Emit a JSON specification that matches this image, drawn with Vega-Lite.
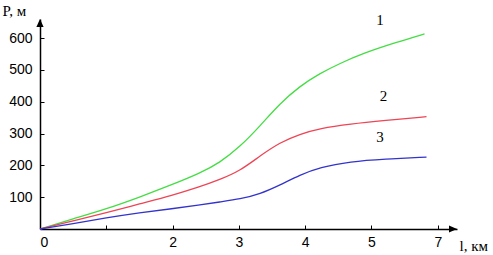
{
  "$schema": "https://vega.github.io/schema/vega-lite/v6.json",
  "autosize": "none",
  "width": 417,
  "height": 210,
  "padding": {"left": 40, "top": 19, "right": 36, "bottom": 26},
  "background": "white",
  "config": {"view": {"stroke": null}},
  "datasets": {
    "curves": [
      {"l": 0, "P": 0, "curve": "1"},
      {"l": 0.5, "P": 32, "curve": "1"},
      {"l": 1.0, "P": 63, "curve": "1"},
      {"l": 1.5, "P": 100, "curve": "1"},
      {"l": 2.0, "P": 140, "curve": "1"},
      {"l": 2.41, "P": 175, "curve": "1"},
      {"l": 2.71, "P": 208, "curve": "1"},
      {"l": 3.02, "P": 259, "curve": "1"},
      {"l": 3.32, "P": 324, "curve": "1"},
      {"l": 3.62, "P": 395, "curve": "1"},
      {"l": 3.92, "P": 449, "curve": "1"},
      {"l": 4.22, "P": 489, "curve": "1"},
      {"l": 4.52, "P": 520, "curve": "1"},
      {"l": 4.87, "P": 552, "curve": "1"},
      {"l": 5.38, "P": 587, "curve": "1"},
      {"l": 5.8, "P": 613, "curve": "1"},
      {"l": 0, "P": 0, "curve": "2"},
      {"l": 0.5, "P": 26, "curve": "2"},
      {"l": 1.0, "P": 51, "curve": "2"},
      {"l": 1.5, "P": 79, "curve": "2"},
      {"l": 2.0, "P": 106, "curve": "2"},
      {"l": 2.4, "P": 132, "curve": "2"},
      {"l": 2.71, "P": 155, "curve": "2"},
      {"l": 3.02, "P": 183, "curve": "2"},
      {"l": 3.32, "P": 230, "curve": "2"},
      {"l": 3.62, "P": 272, "curve": "2"},
      {"l": 3.92, "P": 298, "curve": "2"},
      {"l": 4.22, "P": 316, "curve": "2"},
      {"l": 4.68, "P": 330, "curve": "2"},
      {"l": 5.2, "P": 341, "curve": "2"},
      {"l": 5.83, "P": 353, "curve": "2"},
      {"l": 0, "P": 0, "curve": "3"},
      {"l": 0.5, "P": 17, "curve": "3"},
      {"l": 1.0, "P": 35, "curve": "3"},
      {"l": 1.5, "P": 51, "curve": "3"},
      {"l": 2.0, "P": 64, "curve": "3"},
      {"l": 2.4, "P": 75, "curve": "3"},
      {"l": 2.71, "P": 85, "curve": "3"},
      {"l": 3.02, "P": 94, "curve": "3"},
      {"l": 3.32, "P": 110, "curve": "3"},
      {"l": 3.62, "P": 138, "curve": "3"},
      {"l": 3.92, "P": 170, "curve": "3"},
      {"l": 4.22, "P": 194, "curve": "3"},
      {"l": 4.68, "P": 212, "curve": "3"},
      {"l": 5.2, "P": 220, "curve": "3"},
      {"l": 5.83, "P": 226, "curve": "3"}
    ],
    "labels": [
      {"l": 5.13, "P": 657, "text": "1"},
      {"l": 5.18, "P": 418, "text": "2"},
      {"l": 5.13, "P": 289, "text": "3"}
    ],
    "arrowUp": [{"l": 0, "P": 660}],
    "arrowRight": [{"l": 6.29, "P": 0}]
  },
  "layer": [
    {
      "data": {"name": "curves"},
      "mark": {"type": "line", "interpolate": "basis", "strokeWidth": 1.3},
      "encoding": {
        "x": {
          "field": "l", "type": "quantitative",
          "scale": {"domain": [0, 6.29], "nice": false, "zero": true},
          "axis": {
            "values": [0, 0.5, 1, 1.5, 2, 2.5, 3, 3.5, 4, 4.5, 5, 5.5, 6],
            "labelExpr": "datum.value == 6 ? '7' : (indexof([0,2,3,4,5], datum.value) >= 0 ? format(datum.value, 'd') : '')",
            "grid": false,
            "tickSize": -4,
            "tickColor": "black",
            "domainColor": "black",
            "domainWidth": 1.5,
            "labelPadding": 10,
            "labelFont": "Liberation Sans",
            "labelFontSize": 14,
            "labelColor": "black",
            "title": "l, км",
            "titleFont": "Liberation Serif",
            "titleFontSize": 15,
            "titleFontWeight": "normal",
            "titleColor": "black",
            "titleAlign": "left",
            "titleAnchor": "start",
            "titleBaseline": "alphabetic",
            "titleX": 419,
            "titleY": 21
          }
        },
        "y": {
          "field": "P", "type": "quantitative",
          "scale": {"domain": [0, 660], "nice": false},
          "axis": {
            "values": [100, 200, 300, 400, 500, 600],
            "grid": false,
            "tickSize": -4,
            "tickColor": "black",
            "domainColor": "black",
            "domainWidth": 1.5,
            "labelPadding": 12,
            "labelFont": "Liberation Sans",
            "labelFontSize": 14,
            "labelColor": "black",
            "title": "P, м",
            "titleFont": "Liberation Serif",
            "titleFontSize": 15,
            "titleFontWeight": "normal",
            "titleColor": "black",
            "titleAngle": 0,
            "titleAlign": "left",
            "titleAnchor": "end",
            "titleBaseline": "alphabetic",
            "titleX": -38,
            "titleY": -4
          }
        },
        "color": {
          "field": "curve", "type": "nominal",
          "scale": {"domain": ["1", "2", "3"], "range": ["#44dd44", "#ee4455", "#3333cc"]},
          "legend": null
        }
      }
    },
    {
      "data": {"name": "labels"},
      "mark": {"type": "text", "font": "Liberation Serif", "fontSize": 15, "color": "black", "align": "center", "baseline": "middle"},
      "encoding": {
        "x": {"field": "l", "type": "quantitative"},
        "y": {"field": "P", "type": "quantitative"},
        "text": {"field": "text"}
      }
    },
    {
      "data": {"name": "arrowUp"},
      "mark": {"type": "point", "shape": "M0,0L-0.9,2L0.9,2Z", "filled": true, "size": 64, "color": "black", "opacity": 1},
      "encoding": {
        "x": {"field": "l", "type": "quantitative"},
        "y": {"field": "P", "type": "quantitative"}
      }
    },
    {
      "data": {"name": "arrowRight"},
      "mark": {"type": "point", "shape": "M0,0L-2,-0.9L-2,0.9Z", "filled": true, "size": 64, "color": "black", "opacity": 1},
      "encoding": {
        "x": {"field": "l", "type": "quantitative"},
        "y": {"field": "P", "type": "quantitative"}
      }
    }
  ]
}
